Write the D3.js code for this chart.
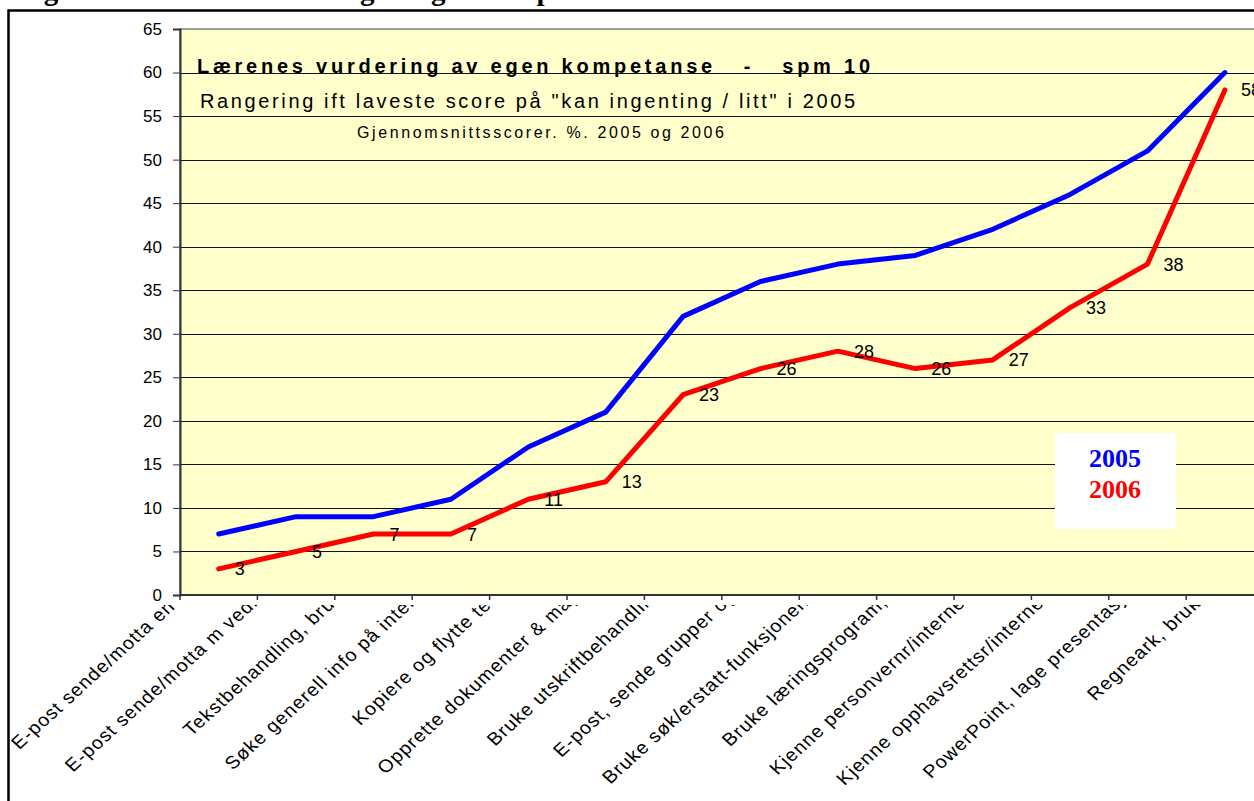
<!DOCTYPE html>
<html>
<head>
<meta charset="utf-8">
<script src="https://cdn.jsdelivr.net/npm/d3@7"></script>
<style>
  body { margin: 0; background: #fff; }
  svg { display: block; font-family: Arial, "Liberation Sans", sans-serif; }
</style>
</head>
<body>
<div id="chart"></div>
<script>
// Category labels (full text, the visible part is clipped like in the original)
var categories = [
    "E-post sende/motta en e-posten",
    "E-post sende/motta m vedlegg, filer",
    "Tekstbehandling, bruke enkelt",
    "Søke generell info på internettsider",
    "Kopiere og flytte tekst/bilder",
    "Opprette dokumenter & mapper/filer",
    "Bruke utskriftbehandling/printer",
    "E-post, sende grupper og klasser",
    "Bruke søk/erstatt-funksjonen i tekster",
    "Bruke læringsprogram, nettsted",
    "Kjenne personvernr/internettreglene",
    "Kjenne opphavsrettsr/internettreglene",
    "PowerPoint, lage presentasjon m lyd",
    "Regneark, bruke formler"
];
var values2005 = [7, 9, 9, 11, 17, 21, 32, 36, 38, 39, 42, 46, 51, 60];
var values2006 = [3, 5, 7, 7, 11, 13, 23, 26, 28, 26, 27, 33, 38, 58];
var yTicks = [0, 5, 10, 15, 20, 25, 30, 35, 40, 45, 50, 55, 60, 65];
var seriesNames = ["2005", "2006"];

var width = 1254, height = 801;
var plot = {left: 180, right: 1263.6, top: 29, bottom: 595};

var svg = d3.select("#chart").append("svg")
    .attr("width", width)
    .attr("height", height);

// cropped heading above the chart box (only descenders show)
svg.append("text")
    .attr("x", 18)
    .attr("y", -0.5)
    .style("font-family", "'Liberation Serif', 'Times New Roman', serif")
    .style("font-weight", "bold")
    .style("font-size", "29px")
    .text("Figur 10. Lærenes vurdering av egen kompetanse");

// outer chart border
svg.append("rect")
    .attr("x", 8.5).attr("y", 10.5)
    .attr("width", 1400).attr("height", 900)
    .attr("fill", "#fff")
    .attr("stroke", "#000")
    .attr("stroke-width", 2.5);

var x = d3.scaleBand()
    .domain(categories)
    .range([plot.left, plot.right])
    .padding(0);

var y = d3.scaleLinear()
    .domain([0, 65])
    .range([plot.bottom, plot.top]);

function cx(i) {
    return x(categories[i]) + x.bandwidth() / 2;
}

// label anchors sit a little wider apart than the categories
var labelX = d3.scalePoint()
    .domain(categories)
    .range([cx(0) + 23, cx(categories.length - 1) + 39]);

// plot area
svg.append("rect")
    .attr("x", plot.left).attr("y", plot.top)
    .attr("width", plot.right - plot.left)
    .attr("height", plot.bottom - plot.top)
    .attr("fill", "#ffffcc")
    .attr("stroke", "#808080")
    .attr("stroke-width", 1.5);

// gridlines
svg.append("g")
    .selectAll("line")
    .data(yTicks.filter(function (d) { return d > 0 && d < 65; }))
    .enter().append("line")
    .attr("x1", plot.left).attr("x2", plot.right)
    .attr("y1", function (d) { return Math.round(y(d)) + 0.5; })
    .attr("y2", function (d) { return Math.round(y(d)) + 0.5; })
    .attr("stroke", "#111")
    .attr("stroke-width", 1);

// y axis
var yAxis = svg.append("g")
    .attr("transform", "translate(" + plot.left + ",0)")
    .call(d3.axisLeft(y).tickValues(yTicks).tickSize(7).tickPadding(11));
yAxis.select(".domain").attr("stroke", "#333").attr("stroke-width", 2);
yAxis.selectAll(".tick line").attr("stroke", "#333");
yAxis.selectAll("text")
    .attr("fill", "#000")
    .style("font-size", "17px")
    .style("font-family", "Arial, 'Liberation Sans', sans-serif");

// x axis line + ticks between categories
var xTickPos = d3.range(categories.length + 1).map(function (i) {
    return plot.left + i * x.bandwidth();
});
svg.append("line")
    .attr("x1", plot.left).attr("x2", plot.right)
    .attr("y1", plot.bottom).attr("y2", plot.bottom)
    .attr("stroke", "#333").attr("stroke-width", 2);
svg.append("g")
    .selectAll("line")
    .data(xTickPos)
    .enter().append("line")
    .attr("x1", function (d) { return d; })
    .attr("x2", function (d) { return d; })
    .attr("y1", plot.bottom)
    .attr("y2", plot.bottom + 5)
    .attr("stroke", "#333").attr("stroke-width", 1.5);

// rotated category labels, clipped just under the axis
svg.append("clipPath").attr("id", "labelClip")
    .append("rect")
    .attr("x", 11).attr("y", 605)
    .attr("width", width).attr("height", 300);

svg.append("g")
    .attr("clip-path", "url(#labelClip)")
    .selectAll("text")
    .data(categories)
    .enter().append("text")
    .attr("transform", function (d) {
        return "translate(" + labelX(d) + ",548) scale(1.1,1) rotate(-45)";
    })
    .attr("text-anchor", "end")
    .style("font-size", "18px")
    .style("letter-spacing", "1px")
    .text(function (d) { return d; });

// lines
var line = d3.line()
    .x(function (d, i) { return cx(i); })
    .y(function (d) { return y(d); });

svg.append("path")
    .datum(values2005)
    .attr("d", line)
    .attr("fill", "none")
    .attr("stroke", "#0000ff")
    .attr("stroke-width", 5)
    .attr("stroke-linejoin", "round")
    .attr("stroke-linecap", "round");

svg.append("path")
    .datum(values2006)
    .attr("d", line)
    .attr("fill", "none")
    .attr("stroke", "#ff0000")
    .attr("stroke-width", 5)
    .attr("stroke-linejoin", "round")
    .attr("stroke-linecap", "round");

// value labels for 2006
svg.append("g")
    .selectAll("text")
    .data(values2006)
    .enter().append("text")
    .attr("x", function (d, i) { return cx(i) + 16; })
    .attr("y", function (d) { return y(d); })
    .attr("dy", "0.36em")
    .style("font-size", "18px")
    .text(function (d) { return d; });

// titles inside the plot
svg.append("text")
    .attr("x", 197).attr("y", 73)
    .attr("textLength", 673)
    .attr("lengthAdjust", "spacing")
    .style("white-space", "pre")
    .style("font-weight", "bold")
    .style("font-size", "20px")
    .text("Lærenes vurdering av egen kompetanse   -   spm 10");

svg.append("text")
    .attr("x", 200).attr("y", 108)
    .attr("textLength", 655)
    .attr("lengthAdjust", "spacing")
    .style("font-size", "20px")
    .text("Rangering ift laveste score på \"kan ingenting / litt\" i 2005");

svg.append("text")
    .attr("x", 357).attr("y", 138)
    .attr("textLength", 367)
    .attr("lengthAdjust", "spacing")
    .style("font-size", "16px")
    .text("Gjennomsnittsscorer. %. 2005 og 2006");

// legend box
svg.append("rect")
    .attr("x", 1055).attr("y", 433)
    .attr("width", 121).attr("height", 96)
    .attr("fill", "#fff");

svg.append("g")
    .selectAll("text")
    .data(seriesNames)
    .enter().append("text")
    .attr("x", 1115)
    .attr("y", function (d, i) { return 467 + i * 31; })
    .attr("text-anchor", "middle")
    .style("font-family", "'Liberation Serif', 'Times New Roman', serif")
    .style("font-weight", "bold")
    .style("font-size", "26px")
    .attr("fill", function (d, i) { return i === 0 ? "#0000ff" : "#ff0000"; })
    .text(function (d) { return d; });
</script>
</body>
</html>
